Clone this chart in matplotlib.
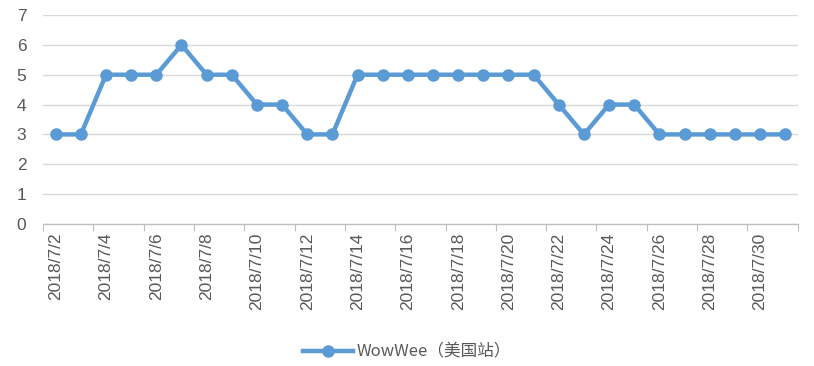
import matplotlib
matplotlib.use("Agg")
import matplotlib.pyplot as plt

dates = ["2018/7/%d" % d for d in range(2, 32)]
values = [3, 3, 5, 5, 5, 6, 5, 5, 4, 4, 3, 3, 5, 5, 5, 5, 5, 5, 5, 5,
          4, 3, 4, 4, 3, 3, 3, 3, 3, 3]
series_name = "WowWee（美国站）"

fig = plt.figure(figsize=(8.14, 3.66), dpi=100)
ax = fig.add_axes([0.053, 0.388, 0.927, 0.571])

x = list(range(len(dates)))
ax.plot(x, values, color="#5B9BD5", linewidth=3.2, marker="o", markersize=8,
        label=series_name)

ax.set_ylim(0, 7)
ax.set_yticks(range(0, 8))
ax.set_xlim(-0.5, len(dates) - 0.5)

# boundary tick marks every two categories, labels on every other category
ax.set_xticks([i - 0.5 for i in range(0, len(dates) + 1, 2)])
ax.set_xticklabels([])
ax.set_xticks(x[::2], minor=True)
ax.set_xticklabels(dates[::2], minor=True, rotation=90, fontsize=12.5,
                   color="#595959", family="Liberation Sans")
ax.tick_params(axis="x", which="major", length=5, color="#bfbfbf")
ax.tick_params(axis="x", which="minor", length=0, pad=6)
ax.tick_params(axis="y", length=0, labelsize=12.5, labelcolor="#595959", pad=12)
for lab in ax.get_yticklabels():
    lab.set_family("Liberation Sans")

ax.grid(axis="y", color="#d9d9d9", linewidth=1)
ax.set_axisbelow(True)
for s in ["top", "right", "left"]:
    ax.spines[s].set_visible(False)
ax.spines["bottom"].set_color("#bfbfbf")
ax.spines["bottom"].set_linewidth(1)

leg = fig.legend(loc="center", bbox_to_anchor=(0.5, 0.038), frameon=False,
                 prop={"family": ["Noto Sans CJK SC", "DejaVu Sans"], "size": 12},
                 handlelength=3, handletextpad=0.2)
for t in leg.get_texts():
    t.set_color("#595959")

fig.savefig("out.png", dpi=100)
